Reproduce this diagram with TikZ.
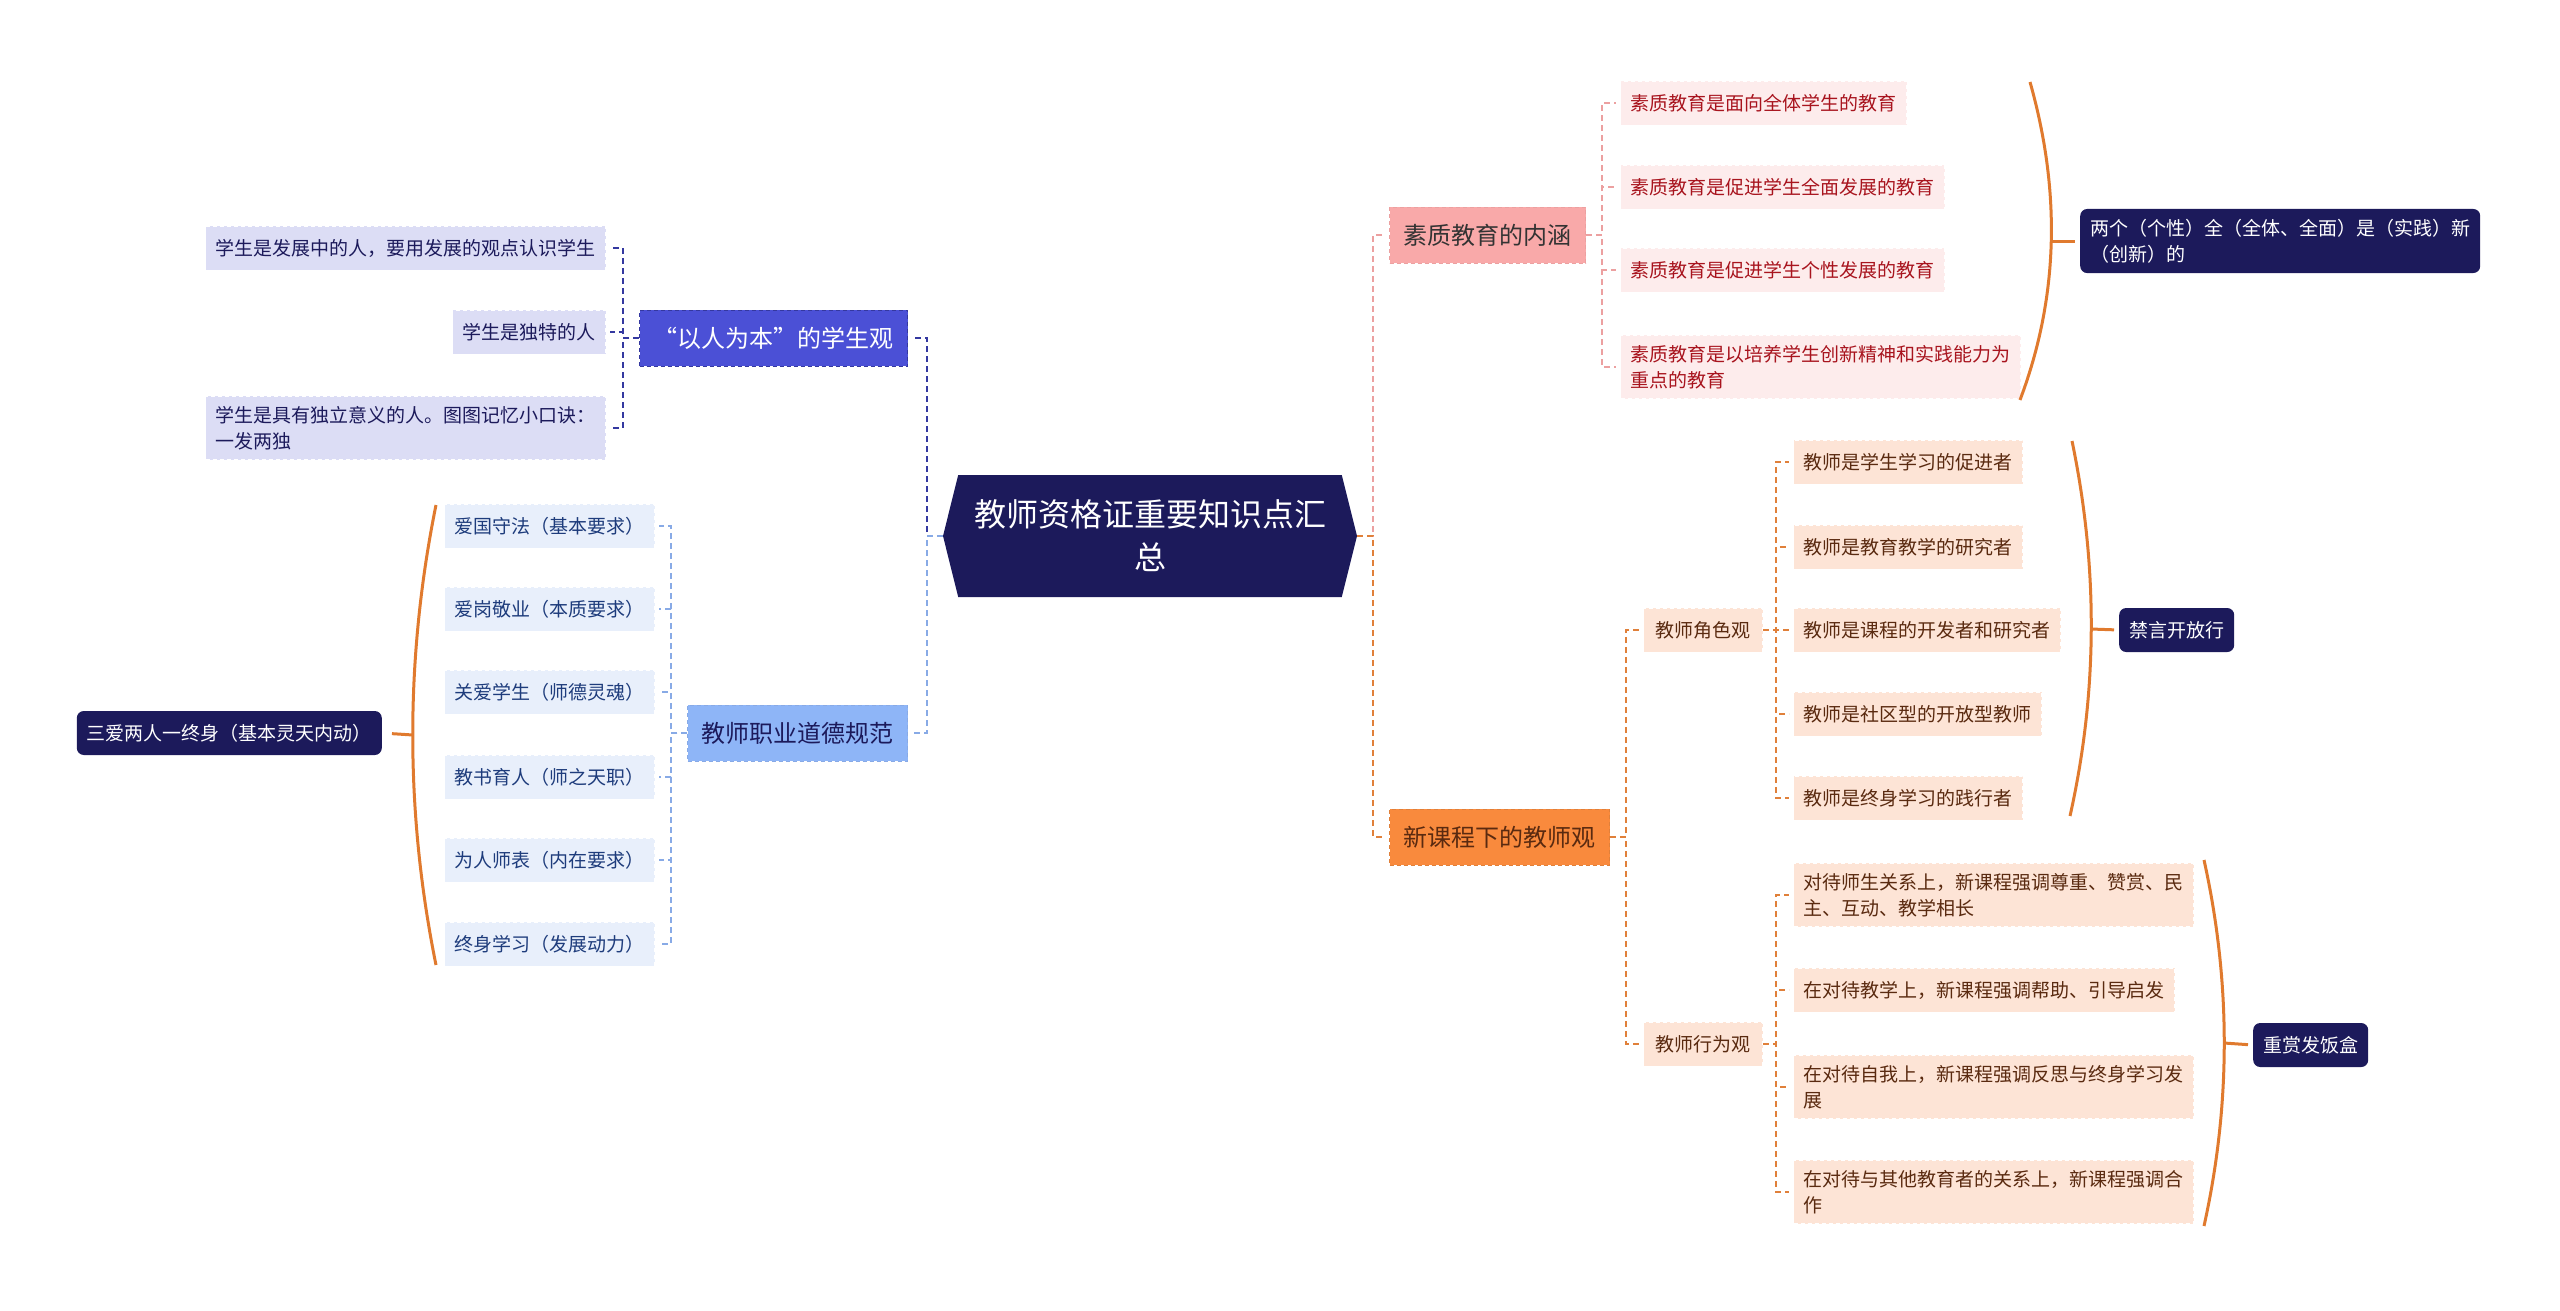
\documentclass[tikz,border=0pt]{standalone}
\usepackage{fontspec}
\setmainfont{Noto Sans CJK SC}
\usepackage{tikz}
\usetikzlibrary{positioning,shapes.symbols}
\definecolor{mnavy}{RGB}{28,26,91}
\definecolor{mbrace}{RGB}{224,122,46}
\definecolor{yiren}{RGB}{75,80,214}
\definecolor{yirenleaf}{RGB}{220,221,245}
\definecolor{yirenline}{RGB}{52,56,160}
\definecolor{zhiye}{RGB}{142,181,247}
\definecolor{zhiyeleaf}{RGB}{232,239,251}
\definecolor{zhiyeline}{RGB}{136,170,230}
\definecolor{zhiyetext}{RGB}{30,60,124}
\definecolor{suzhi}{RGB}{249,169,169}
\definecolor{suzhileaf}{RGB}{253,236,236}
\definecolor{suzhiline}{RGB}{236,160,160}
\definecolor{suzhitext}{RGB}{168,20,30}
\definecolor{xinkc}{RGB}{249,138,61}
\definecolor{xinkcleaf}{RGB}{253,228,214}
\definecolor{xinkcline}{RGB}{224,128,58}
\definecolor{xinkctext}{RGB}{90,42,16}

\tikzset{
  leaf/.style={rectangle, inner xsep=10pt, inner ysep=10pt, minimum height=44pt,
    align=left, font=\fontsize{19}{26}\selectfont, line width=1pt,
    dash pattern=on 4pt off 3pt},
  topic/.style={rectangle, inner xsep=14pt, minimum height=56pt,
    font=\fontsize{24}{30}\selectfont, line width=1pt, dash pattern=on 4pt off 3pt},
  summ/.style={rectangle, rounded corners=7pt, fill=mnavy, text=white,
    inner xsep=10pt, inner ysep=10pt, minimum height=44pt, align=left,
    font=\fontsize{19}{26}\selectfont},
  link/.style={line width=2pt, dash pattern=on 6pt off 4pt, shorten >=4pt},
  brace/.style={line width=3pt, draw=mbrace},
}

\begin{document}
\begin{tikzpicture}[x=1pt, y=-1pt]
  \useasboundingbox (0,0) rectangle (2560,1310);

  % centre
  \node[signal, signal to=west and east, signal pointer angle=152, fill=mnavy,
    text=white, minimum width=414pt, minimum height=122pt, align=center,
    font=\fontsize{32}{43}\selectfont] (root) at (1150,536)
    {教师资格证重要知识点汇\\总};

  % left side
  \node[topic, fill=yiren, draw=yirenline, text=white, anchor=east] (yiren) at (908,338) {“以人为本”的学生观};
  \node[leaf, fill=yirenleaf, draw=white, text=mnavy, anchor=east] (yr1) at (606,248) {学生是发展中的人，要用发展的观点认识学生};
  \node[leaf, fill=yirenleaf, draw=white, text=mnavy, anchor=east] (yr2) at (606,332) {学生是独特的人};
  \node[leaf, fill=yirenleaf, draw=white, text=mnavy, anchor=east] (yr3) at (606,428) {学生是具有独立意义的人。图图记忆小口诀：\\一发两独};

  \node[topic, fill=zhiye, draw=zhiyeline, text=mnavy, anchor=east] (zhiye) at (908,733) {教师职业道德规范};
  \node[leaf, fill=zhiyeleaf, draw=white, text=zhiyetext, anchor=east] (zy1) at (655,526) {爱国守法（基本要求）};
  \node[leaf, fill=zhiyeleaf, draw=white, text=zhiyetext, anchor=east] (zy2) at (655,609) {爱岗敬业（本质要求）};
  \node[leaf, fill=zhiyeleaf, draw=white, text=zhiyetext, anchor=east] (zy3) at (655,692) {关爱学生（师德灵魂）};
  \node[leaf, fill=zhiyeleaf, draw=white, text=zhiyetext, anchor=east] (zy4) at (655,777) {教书育人（师之天职）};
  \node[leaf, fill=zhiyeleaf, draw=white, text=zhiyetext, anchor=east] (zy5) at (655,860) {为人师表（内在要求）};
  \node[leaf, fill=zhiyeleaf, draw=white, text=zhiyetext, anchor=east] (zy6) at (655,944) {终身学习（发展动力）};
  \node[summ, anchor=east] (sanai) at (382,733) {三爱两人一终身（基本灵天内动）};

  % right side
  \node[topic, fill=suzhi, draw=suzhiline, text=black!80, anchor=west] (suzhi) at (1389,235) {素质教育的内涵};
  \node[leaf, fill=suzhileaf, draw=white, text=suzhitext, anchor=west] (sz1) at (1620,103) {素质教育是面向全体学生的教育};
  \node[leaf, fill=suzhileaf, draw=white, text=suzhitext, anchor=west] (sz2) at (1620,187) {素质教育是促进学生全面发展的教育};
  \node[leaf, fill=suzhileaf, draw=white, text=suzhitext, anchor=west] (sz3) at (1620,270) {素质教育是促进学生个性发展的教育};
  \node[leaf, fill=suzhileaf, draw=white, text=suzhitext, anchor=west] (sz4) at (1620,367) {素质教育是以培养学生创新精神和实践能力为\\重点的教育};
  \node[summ, anchor=west] (liangge) at (2080,241) {两个（个性）全（全体、全面）是（实践）新\\（创新）的};

  \node[topic, fill=xinkc, draw=xinkcline, text=xinkctext, anchor=west] (xinkc) at (1389,837) {新课程下的教师观};
  \node[leaf, fill=xinkcleaf, draw=white, text=xinkctext, inner xsep=12pt, anchor=west] (juese) at (1643,630) {教师角色观};
  \node[leaf, fill=xinkcleaf, draw=white, text=xinkctext, inner xsep=12pt, anchor=west] (xingwei) at (1643,1044) {教师行为观};
  \node[leaf, fill=xinkcleaf, draw=white, text=xinkctext, anchor=west] (js1) at (1793,462) {教师是学生学习的促进者};
  \node[leaf, fill=xinkcleaf, draw=white, text=xinkctext, anchor=west] (js2) at (1793,547) {教师是教育教学的研究者};
  \node[leaf, fill=xinkcleaf, draw=white, text=xinkctext, anchor=west] (js3) at (1793,630) {教师是课程的开发者和研究者};
  \node[leaf, fill=xinkcleaf, draw=white, text=xinkctext, anchor=west] (js4) at (1793,714) {教师是社区型的开放型教师};
  \node[leaf, fill=xinkcleaf, draw=white, text=xinkctext, anchor=west] (js5) at (1793,798) {教师是终身学习的践行者};
  \node[summ, anchor=west] (jinyan) at (2119,630) {禁言开放行};
  \node[leaf, fill=xinkcleaf, draw=white, text=xinkctext, anchor=west] (xw1) at (1793,895) {对待师生关系上，新课程强调尊重、赞赏、民\\主、互动、教学相长};
  \node[leaf, fill=xinkcleaf, draw=white, text=xinkctext, anchor=west] (xw2) at (1793,990) {在对待教学上，新课程强调帮助、引导启发};
  \node[leaf, fill=xinkcleaf, draw=white, text=xinkctext, anchor=west] (xw3) at (1793,1087) {在对待自我上，新课程强调反思与终身学习发\\展};
  \node[leaf, fill=xinkcleaf, draw=white, text=xinkctext, anchor=west] (xw4) at (1793,1192) {在对待与其他教育者的关系上，新课程强调合\\作};
  \node[summ, anchor=west] (zhongshang) at (2253,1045) {重赏发饭盒};

  % connectors
  \draw[link, yirenline] (root.west) -- ++(-16,0) |- (yiren.east);
  \draw[link, zhiyeline] (root.west) -- ++(-16,0) |- (zhiye.east);
  \foreach \c in {yr1,yr2,yr3}
    \draw[link, yirenline] (yiren.west) -- ++(-16,0) |- (\c.east);
  \foreach \c in {zy1,zy2,zy3,zy4,zy5,zy6}
    \draw[link, zhiyeline] (zhiye.west) -- ++(-16,0) |- (\c.east);
  \draw[link, suzhiline] (root.east) -- ++(16,0) |- (suzhi.west);
  \draw[link, xinkcline] (root.east) -- ++(16,0) |- (xinkc.west);
  \foreach \c in {sz1,sz2,sz3,sz4}
    \draw[link, suzhiline] (suzhi.east) -- ++(16,0) |- (\c.west);
  \foreach \c in {juese,xingwei}
    \draw[link, xinkcline] (xinkc.east) -- ++(16,0) |- (\c.west);
  \foreach \c in {js1,js2,js3,js4,js5}
    \draw[link, xinkcline] (juese.east) -- ++(13,0) |- (\c.west);
  \foreach \c in {xw1,xw2,xw3,xw4}
    \draw[link, xinkcline] (xingwei.east) -- ++(13,0) |- (\c.west);

  % summary braces
  \coordinate (bzy) at (413,735);
  \draw[brace] (436,505) .. controls (405,658) and (405,812) .. (436,965);
  \draw[brace, shorten >=10pt] (bzy) -- (sanai.east);
  \coordinate (bsz) at (2051,241);
  \draw[brace] (2030,82) .. controls (2060,188) and (2060,294) .. (2020,400);
  \draw[brace, shorten >=5pt] (bsz) -- (liangge.west);
  \coordinate (bjs) at (2091,629);
  \draw[brace] (2072,441) .. controls (2098,566) and (2098,691) .. (2070,816);
  \draw[brace, shorten >=5pt] (bjs) -- (jinyan.west);
  \coordinate (bxw) at (2224,1043);
  \draw[brace] (2204,860) .. controls (2231,982) and (2231,1104) .. (2204,1226);
  \draw[brace, shorten >=5pt] (bxw) -- (zhongshang.west);
\end{tikzpicture}
\end{document}
